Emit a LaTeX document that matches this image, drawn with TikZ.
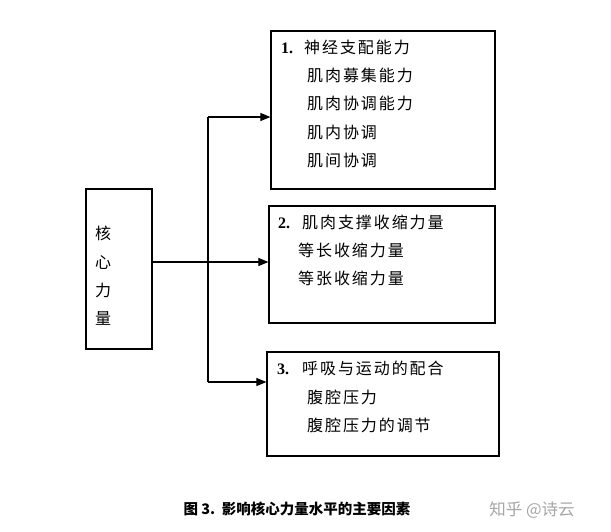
\documentclass[tikz,border=0pt]{standalone}
\usepackage{fontspec}
\setmainfont{Liberation Serif}
\newfontfamily\cjk[LetterSpace=12]{Noto Sans CJK SC}
\newfontfamily\cjkcap{Noto Sans CJK SC}
\usetikzlibrary{arrows.meta}
\begin{document}
\begin{tikzpicture}[x=1pt,y=-1pt,
  box/.style={draw,line width=1.2pt,minimum width=#1,inner sep=0pt},
  arr/.style={line width=1.1pt,-{Triangle[length=10pt,width=8pt]}},
  ln/.style={line width=1.1pt},
  txt/.style={anchor=base west,inner sep=0pt,font=\fontsize{16}{16}\selectfont\cjk},
  num/.style={anchor=base west,inner sep=0pt,font=\fontsize{16}{16}\selectfont\bfseries}]
\useasboundingbox (0,0) rectangle (611,531);
% boxes
\node[box=66pt,minimum height=160pt] (core) at (119,269) {};
\node[box=224pt,minimum height=158pt] (b1) at (383,110) {};
\node[box=226pt,minimum height=117pt] (b2) at (382,264.5) {};
\node[box=232pt,minimum height=104pt] (b3) at (383,404) {};
% core text
\node[txt] (c1) at (95,239) {核};
\node[txt] (c2) at (95,268) {心};
\node[txt] (c3) at (95,296) {力};
\node[txt] (c4) at (95,324) {量};
% box1 text
\node[num] (n1) at (281,53) {1.};
\node[txt] (t10) at (304,53) {神经支配能力};
\node[txt] (t11) at (307,81) {肌肉募集能力};
\node[txt] (t12) at (307,109) {肌肉协调能力};
\node[txt] (t13) at (307,138) {肌内协调};
\node[txt] (t14) at (307,166) {肌间协调};
% box2 text
\node[num] (n2) at (278,228) {2.};
\node[txt] (t20) at (302,228) {肌肉支撑收缩力量};
\node[txt] (t21) at (298,256) {等长收缩力量};
\node[txt] (t22) at (298,284) {等张收缩力量};
% box3 text
\node[num] (n3) at (277,374) {3.};
\node[txt] (t30) at (302,374) {呼吸与运动的配合};
\node[txt] (t31) at (307,403) {腹腔压力};
\node[txt] (t32) at (307,431) {腹腔压力的调节};
% connectors
\coordinate (top) at (208,117);
\coordinate (bot) at (208,382);
\coordinate (mid) at (208,262);
\draw[arr] (core.east |- mid) -- (b2.west |- mid);
\draw[ln] (bot) -- (top);
\draw[arr] (top) -- (b1.west |- top);
\draw[arr] (bot) -- (b3.west |- bot);
% caption
\node[anchor=base,inner sep=0pt,font=\fontsize{14.5}{14.5}\selectfont\cjkcap\bfseries] (cap) at (297,514) {图 3.\ \ 影响核心力量水平的主要因素};
\node[anchor=base,inner sep=0pt,text=black!35,font=\fontsize{16.5}{16.5}\selectfont\cjkcap] (wm) at (532,515) {知乎 @诗云};
\end{tikzpicture}
\end{document}
